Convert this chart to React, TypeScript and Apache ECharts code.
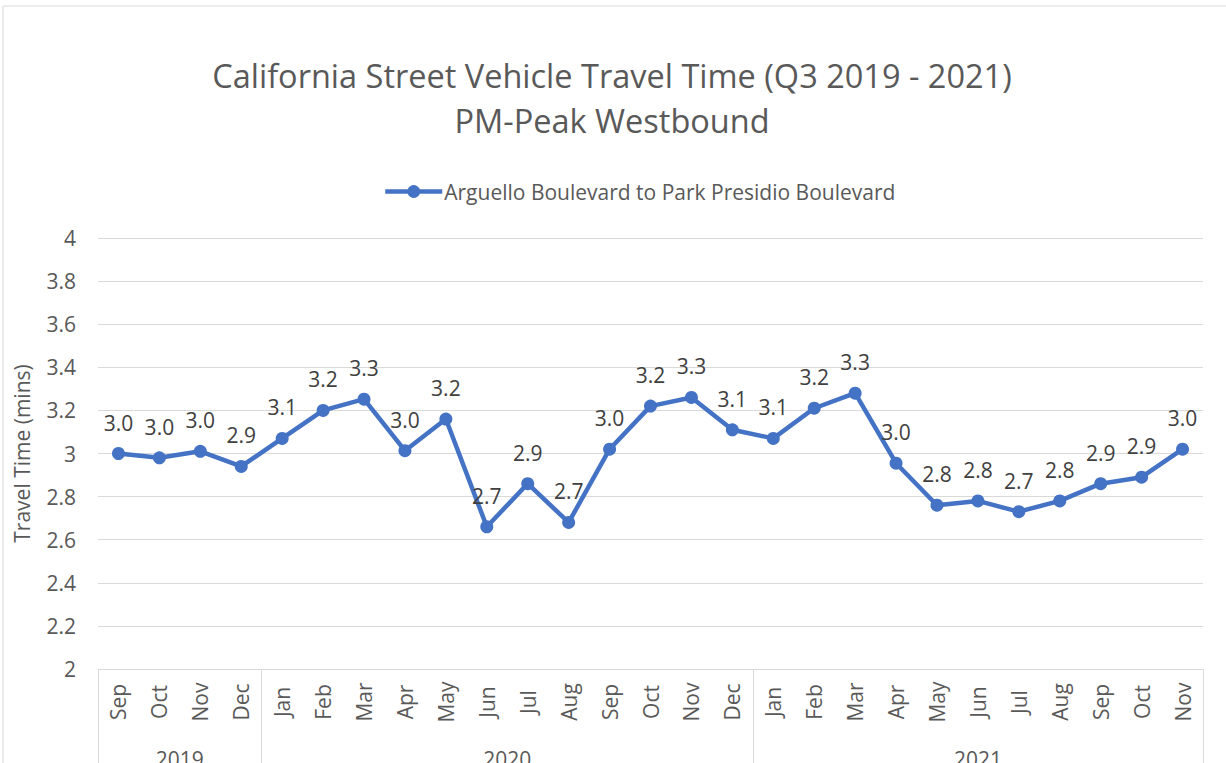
import React, { useEffect, useRef } from "react";
import * as echarts from "echarts";

const months = [
  "Sep", "Oct", "Nov", "Dec",
  "Jan", "Feb", "Mar", "Apr", "May", "Jun", "Jul", "Aug", "Sep", "Oct", "Nov", "Dec",
  "Jan", "Feb", "Mar", "Apr", "May", "Jun", "Jul", "Aug", "Sep", "Oct", "Nov",
];
const years = ["2019", "2020", "2021"];
const monthsPerYear = [4, 12, 11];
const travelTime = [
  3.0, 2.98, 3.01, 2.94,
  3.07, 3.2, 3.252, 3.013, 3.16, 2.66, 2.86, 2.68, 3.02, 3.22, 3.26, 3.11,
  3.07, 3.21, 3.28, 2.955, 2.76, 2.78, 2.73, 2.78, 2.86, 2.89, 3.02,
];
const seriesName = "Arguello Boulevard to Park Presidio Boulevard";
const titleText = "California Street Vehicle Travel Time (Q3 2019 - 2021)\nPM-Peak Westbound";
const yAxisName = "Travel Time (mins)";

const FONT = "'Open Sans', 'Noto Sans', sans-serif";

export default function App() {
  const ref = useRef<HTMLDivElement>(null);
  useEffect(() => {
    if (!ref.current) return;
    const chart = echarts.init(ref.current, null, { renderer: "svg" });

    // half-month slots for the year-level axis
    const total = monthsPerYear.reduce((a, b) => a + b, 0);
    const yearSlots: string[] = new Array(total * 2 + 1).fill("");
    const boundaries: number[] = [0];
    let acc = 0;
    years.forEach((y, i) => {
      const start = acc;
      acc += monthsPerYear[i];
      yearSlots[start + acc] = y;
      boundaries.push(acc * 2);
    });

    chart.setOption({
      animation: false,
      textStyle: { fontFamily: FONT },
      title: {
        text: titleText,
        left: 607,
        top: 48,
        textAlign: "center",
        textStyle: {
          fontFamily: FONT,
          fontSize: 32.5,
          fontWeight: "normal",
          color: "#595959",
          lineHeight: 45,
        },
      },
      legend: {
        left: 383,
        top: 181,
        padding: 0,
        itemWidth: 57,
        itemHeight: 16,
        itemGap: 10,
        lineStyle: { width: 4.5 },
        textStyle: { fontFamily: FONT, fontSize: 21, color: "#595959", padding: [0, 0, 0, -3] },
        data: [seriesName],
      },
      grid: {
        left: 98,
        right: 23,
        top: 238,
        bottom: 94,
        containLabel: false,
        outerBoundsMode: "none",
      },
      xAxis: [
        {
          type: "category",
          data: months,
          boundaryGap: true,
          position: "bottom",
          axisLine: { show: true, lineStyle: { color: "#d9d9d9", width: 1 } },
          axisTick: { show: false },
          axisLabel: {
            interval: 0,
            rotate: 90,
            align: "center",
            verticalAlign: "middle",
            margin: 33,
            fontFamily: FONT,
            fontSize: 21,
            color: "#595959",
          },
          splitLine: { show: false },
        },
        {
          type: "category",
          data: yearSlots,
          boundaryGap: false,
          position: "bottom",
          offset: 0,
          axisLine: { show: false },
          axisTick: {
            show: true,
            interval: (idx: number) => boundaries.includes(idx),
            length: 110,
            lineStyle: { color: "#d9d9d9", width: 1 },
          },
          axisLabel: {
            interval: (idx: number, v: string) => v !== "",
            margin: 79,
            fontFamily: FONT,
            fontSize: 21,
            color: "#595959",
          },
          splitLine: { show: false },
        },
      ],
      yAxis: {
        type: "value",
        min: 2,
        max: 4,
        interval: 0.2,
        name: yAxisName,
        nameLocation: "middle",
        nameGap: 66,
        nameTextStyle: { fontFamily: FONT, fontSize: 21, color: "#595959" },
        axisLine: { show: false },
        axisTick: { show: false },
        axisLabel: {
          margin: 22,
          fontFamily: FONT,
          fontSize: 21,
          color: "#595959",
          formatter: (v: number) => String(Math.round(v * 10) / 10),
        },
        splitLine: { lineStyle: { color: "#d9d9d9", width: 1 } },
      },
      graphic: [
        {
          type: "rect",
          shape: { x: 3, y: 6, width: 1400, height: 1000 },
          style: { fill: "none", stroke: "#d9d9d9", lineWidth: 1 },
          silent: true,
        },
      ],
      series: [
        {
          name: seriesName,
          type: "line",
          xAxisIndex: 0,
          data: travelTime,
          symbol: "circle",
          symbolSize: 13,
          lineStyle: { color: "#4472C4", width: 4.5 },
          itemStyle: { color: "#4472C4" },
          label: {
            show: true,
            position: "top",
            distance: 14,
            fontFamily: FONT,
            fontSize: 21,
            color: "#404040",
            formatter: (p: any) => Number(p.value).toFixed(1),
          },
        },
      ],
    });
    return () => chart.dispose();
  }, []);
  return (
    <div
      ref={ref}
      style={{ position: "fixed", left: 0, top: 0, width: 1226, height: 763, background: "#fff" }}
    />
  );
}
